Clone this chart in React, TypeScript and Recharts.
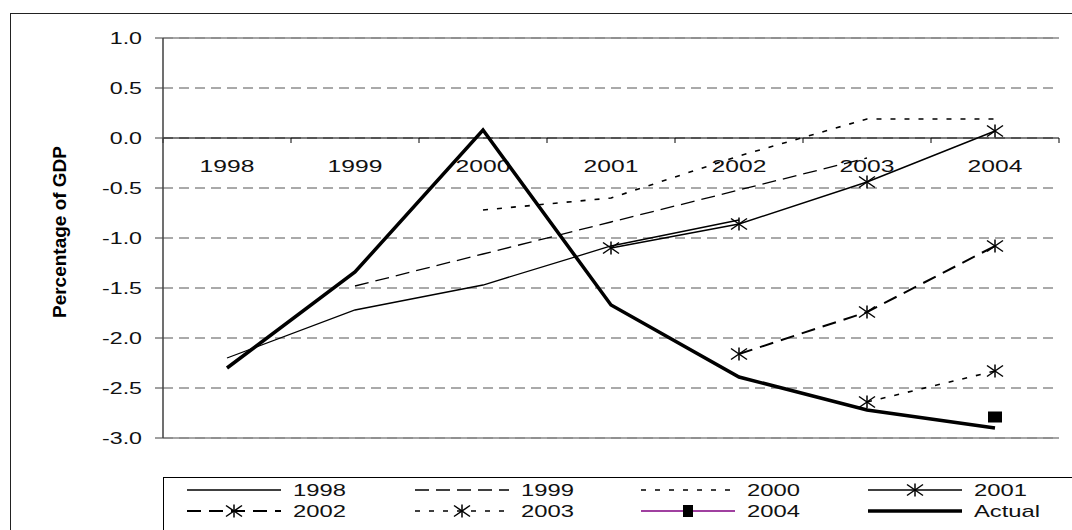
import { ComposedChart, Line, XAxis, YAxis, CartesianGrid, ReferenceLine } from 'recharts'

const years = ['1998', '1999', '2000', '2001', '2002', '2003', '2004']
const f1998 = [-2.2, -1.72, -1.47, -1.08, -0.82, null, null]
const f1999 = [null, -1.48, -1.16, -0.84, -0.52, -0.2, null]
const f2000 = [null, null, -0.72, -0.6, -0.18, 0.19, 0.19]
const f2001 = [null, null, null, -1.1, -0.86, -0.44, 0.07]
const f2002 = [null, null, null, null, -2.16, -1.74, -1.08]
const f2003 = [null, null, null, null, null, -2.64, -2.33]
const f2004 = [null, null, null, null, null, null, -2.79]
const actual = [-2.3, -1.34, 0.08, -1.67, -2.39, -2.72, -2.9]
const yTicks = [1, 0.5, 0, -0.5, -1, -1.5, -2, -2.5, -3]

const FONT = '"Liberation Sans", Arial, sans-serif'
const STRETCH = 1.45

type Marker = 'none' | 'star' | 'square'
interface SeriesStyle {
  key: string
  name: string
  dash?: string
  width: number
  marker: Marker
  legendColor?: string
}

const series: SeriesStyle[] = [
  { key: 'f1998', name: '1998', width: 1.3, marker: 'none' },
  { key: 'f1999', name: '1999', dash: '14 7', width: 1.3, marker: 'none' },
  { key: 'f2000', name: '2000', dash: '5 9', width: 1.6, marker: 'none' },
  { key: 'f2001', name: '2001', width: 1.5, marker: 'star' },
  { key: 'f2002', name: '2002', dash: '14 8', width: 2, marker: 'star' },
  { key: 'f2003', name: '2003', dash: '5 9', width: 1.6, marker: 'star' },
  { key: 'f2004', name: '2004', width: 1.3, marker: 'square', legendColor: '#800080' },
  { key: 'actual', name: 'Actual', width: 3.5, marker: 'none' },
]

const chartData = years.map((year, i) => ({
  year,
  f1998: f1998[i],
  f1999: f1999[i],
  f2000: f2000[i],
  f2001: f2001[i],
  f2002: f2002[i],
  f2003: f2003[i],
  f2004: f2004[i],
  actual: actual[i],
}))

function Star({ cx, cy }: { cx: number; cy: number }) {
  return (
    <g stroke="#000" strokeWidth={1.5}>
      <line x1={cx} y1={cy - 6.5} x2={cx} y2={cy + 6.5} />
      <line x1={cx - 8} y1={cy - 5.5} x2={cx + 8} y2={cy + 5.5} />
      <line x1={cx - 8} y1={cy + 5.5} x2={cx + 8} y2={cy - 5.5} />
    </g>
  )
}

function Square({ cx, cy }: { cx: number; cy: number }) {
  return <rect x={cx - 7} y={cy - 5.5} width={14} height={11} fill="#000" />
}

function makeDot(marker: Marker) {
  if (marker === 'none') return false
  return (props: any) => {
    const { cx, cy, index, value } = props
    if (cy == null || value == null) return <g key={index} />
    return marker === 'star' ? (
      <Star key={index} cx={cx} cy={cy} />
    ) : (
      <Square key={index} cx={cx} cy={cy} />
    )
  }
}

function YTick({ x, y, payload }: any) {
  return (
    <text
      transform={`translate(${x},${y}) scale(${STRETCH},1)`}
      textAnchor="end"
      dy="0.36em"
      fontSize={16}
      fontFamily={FONT}
      fill="#111"
    >
      {Number(payload.value).toFixed(1)}
    </text>
  )
}

// category labels and tick marks hang off the zero line
function CategoryAxis({ viewBox }: any) {
  if (!viewBox) return null
  const { x, y, width } = viewBox
  const band = width / years.length
  return (
    <g>
      {years.concat(['']).map((_, i) => (
        <line key={'t' + i} x1={x + i * band} y1={y} x2={x + i * band} y2={y + 5} stroke="#000" strokeWidth={1} />
      ))}
      {years.map((yr, i) => (
        <text
          key={yr}
          transform={`translate(${x + (i + 0.5) * band},${y + 34}) scale(${STRETCH},1)`}
          textAnchor="middle"
          fontSize={17}
          fontFamily={FONT}
          fill="#111"
        >
          {yr}
        </text>
      ))}
    </g>
  )
}

function YLabel({ viewBox }: any) {
  if (!viewBox) return null
  const cx = viewBox.x - 44
  const cy = viewBox.y + viewBox.height / 2 - 6
  return (
    <text
      transform={`translate(${cx},${cy}) rotate(-90) scale(1,1.25)`}
      textAnchor="middle"
      dy="0.35em"
      fontSize={15}
      fontWeight="bold"
      fontFamily={FONT}
      textLength={172}
      lengthAdjust="spacingAndGlyphs"
      fill="#000"
    >
      Percentage of GDP
    </text>
  )
}

function LegendBox() {
  const colX = [24, 252, 478, 705]
  const rowY = [13, 34]
  const lineLen = 94
  return (
    <svg width={909} height={53} style={{ position: 'absolute', left: 163, top: 477 }}>
      <rect x={0.5} y={0.5} width={1000} height={100} fill="#fff" stroke="#000" strokeWidth={1} />
      {series.map((s, i) => {
        const x0 = colX[i % 4]
        const y0 = rowY[Math.floor(i / 4)]
        const mid = x0 + lineLen / 2
        return (
          <g key={s.key}>
            <line
              x1={x0}
              y1={y0}
              x2={x0 + lineLen}
              y2={y0}
              stroke={s.legendColor ?? '#000'}
              strokeWidth={s.width}
              strokeDasharray={s.dash}
            />
            {s.marker === 'star' && <Star cx={mid} cy={y0} />}
            {s.marker === 'square' && <rect x={mid - 5} y={y0 - 6} width={10} height={12} fill="#000" />}
            <text
              transform={`translate(${x0 + lineLen + 12},${y0}) scale(1.4,1)`}
              dy="0.36em"
              fontSize={17}
              fontFamily={FONT}
              fill="#111"
            >
              {s.name}
            </text>
          </g>
        )
      })}
    </svg>
  )
}

export default function App() {
  return (
    <div style={{ position: 'relative', width: 1072, height: 530, overflow: 'hidden', background: '#fff' }}>
      <style>{'body{margin:0}'}</style>
      <div
        style={{
          position: 'absolute',
          left: 10,
          top: 13,
          width: 1200,
          height: 1000,
          border: '1px solid #222',
        }}
      />
      <div style={{ position: 'absolute', left: 0, top: 0 }}>
        <ComposedChart width={1072} height={530} data={chartData} margin={{ top: 38, right: 13, left: 103, bottom: 92 }}>
          <CartesianGrid horizontal vertical={false} stroke="#555" strokeDasharray="10 6" />
          <XAxis dataKey="year" scale="band" hide />
          <YAxis
            type="number"
            domain={[-3, 1]}
            ticks={yTicks}
            interval={0}
            width={60}
            axisLine={{ stroke: '#404040', strokeWidth: 1.5 }}
            tickLine={{ stroke: '#404040', strokeWidth: 1 }}
            tickSize={8}
            tickMargin={13}
            tick={<YTick />}
            label={<YLabel />}
          />
          <YAxis
            yAxisId="right"
            orientation="right"
            type="number"
            domain={[-3, 1]}
            width={0}
            tick={false}
            tickLine={false}
            axisLine={{ stroke: '#888', strokeWidth: 1.5 }}
          />
          <ReferenceLine y={1} stroke="#888" strokeWidth={1.5} />
          <ReferenceLine y={-3} stroke="#888" strokeWidth={1.5} />
          <ReferenceLine y={0} stroke="#000" strokeWidth={1.2} label={<CategoryAxis />} />
          {series.map((s) => (
            <Line
              key={s.key}
              dataKey={s.key}
              name={s.name}
              type="linear"
              stroke="#000"
              strokeWidth={s.width}
              strokeDasharray={s.dash}
              dot={makeDot(s.marker)}
              activeDot={false}
              isAnimationActive={false}
            />
          ))}
        </ComposedChart>
      </div>
      <LegendBox />
    </div>
  )
}
